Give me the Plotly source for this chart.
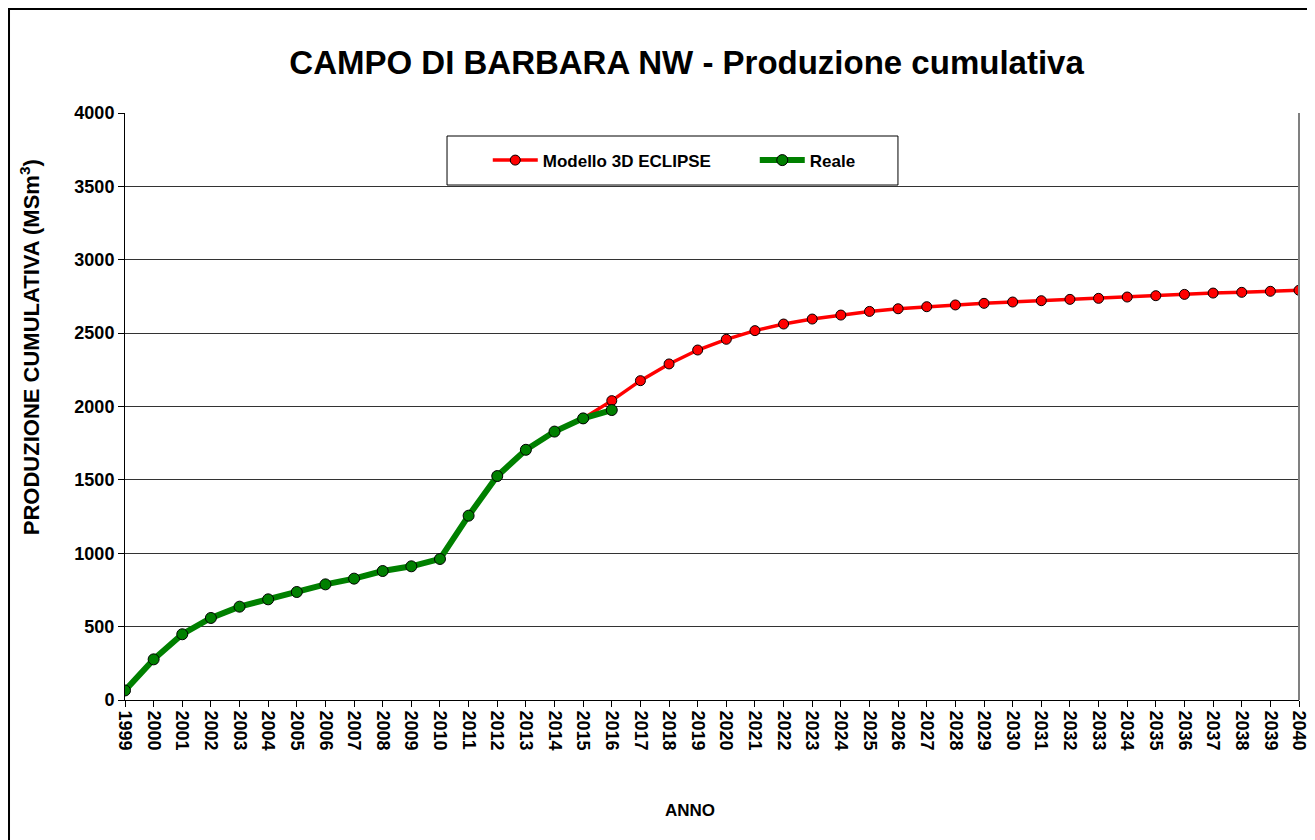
import plotly.graph_objects as go

# anni (asse categorie)
years = list(range(1999, 2041))

# produzione cumulativa reale (MSm3), 1999-2016
real_years = list(range(1999, 2017))
real_values = [65, 277, 448, 559, 636, 686, 736, 788, 827, 879, 911, 961,
               1256, 1526, 1705, 1829, 1919, 1976]

# modello 3D ECLIPSE (MSm3), 2015-2040
model_years = list(range(2015, 2041))
model_values = [1919, 2040, 2176, 2290, 2385, 2458, 2517, 2562, 2596, 2623,
                2648, 2666, 2680, 2692, 2703, 2712, 2721, 2730, 2737, 2746,
                2755, 2764, 2773, 2778, 2785, 2792]

y_ticks = [0, 500, 1000, 1500, 2000, 2500, 3000, 3500, 4000]

FONT = "Liberation Sans, Arial, sans-serif"

fig = go.Figure()

fig.add_trace(go.Scatter(
    x=model_years, y=model_values, mode="lines+markers",
    name="<b>Modello 3D ECLIPSE</b>",
    line=dict(color="#ff0000", width=3.5),
    marker=dict(color="#ff0000", size=10, line=dict(color="black", width=1)),
))
fig.add_trace(go.Scatter(
    x=real_years, y=real_values, mode="lines+markers",
    name="<b>Reale</b>",
    line=dict(color="#008000", width=6),
    marker=dict(color="#008000", size=11, line=dict(color="black", width=1)),
))

# page border and legend box
fig.add_shape(type="rect", xref="paper", yref="paper",
              x0=-0.0988, x1=1.03, y0=-0.26, y1=1.1772,
              line=dict(color="black", width=2), fillcolor="rgba(0,0,0,0)")
fig.add_shape(type="rect", xref="paper", yref="paper",
              x0=0.2743, x1=0.6584, y0=0.8773, y1=0.9608,
              line=dict(color="black", width=1), fillcolor="white")
# right edge of plot area (grey)
fig.add_shape(type="line", xref="x domain", yref="y domain",
              x0=1, x1=1, y0=0, y1=1, line=dict(color="#808080", width=2))

# axis titles
fig.add_annotation(text="<b>PRODUZIONE CUMULATIVA (MSm<sup>3</sup>)</b>",
                   xref="paper", yref="paper", x=-0.0809, y=0.601,
                   xanchor="center", yanchor="middle",
                   textangle=-90, showarrow=False, font=dict(size=22, family=FONT))
fig.add_annotation(text="<b>ANNO</b>", xref="paper", yref="paper",
                   x=0.481, y=-0.1874, xanchor="center", yanchor="middle",
                   showarrow=False, font=dict(size=17, family=FONT))

fig.update_layout(
    width=1315, height=840,
    margin=dict(l=117, r=24, t=105, b=148, autoexpand=False),
    paper_bgcolor="white", plot_bgcolor="white",
    font=dict(family=FONT, size=16, color="black"),
    title=dict(text="<b>CAMPO DI BARBARA NW - Produzione cumulativa</b>",
               x=0.516, xanchor="center", y=0.9357, yanchor="middle",
               font=dict(size=33, family=FONT, color="black")),
    legend=dict(orientation="h", x=0.309, y=0.919, xanchor="left", yanchor="middle",
                bgcolor="rgba(0,0,0,0)", borderwidth=0, itemwidth=45,
                entrywidth=207, font=dict(size=17, family=FONT)),
    showlegend=True,
)

fig.update_xaxes(
    range=[1999, 2040], tickmode="array", tickvals=years,
    ticktext=[str(y) for y in years], tickangle=90,
    tickfont=dict(size=18, family=FONT, weight="bold"), ticks="outside", ticklen=6,
    tickcolor="black", showline=True, linecolor="black", linewidth=1,
    showgrid=False, zeroline=False, automargin=False,
)
fig.update_yaxes(
    range=[0, 4000], tickmode="array", tickvals=y_ticks,
    tickfont=dict(size=18, family=FONT, weight="bold"), ticks="outside", ticklen=6,
    tickcolor="black", showline=True, linecolor="black", linewidth=1,
    showgrid=True, gridcolor="#333333", gridwidth=1, zeroline=False, automargin=False,
)

fig.write_html("out.html")
